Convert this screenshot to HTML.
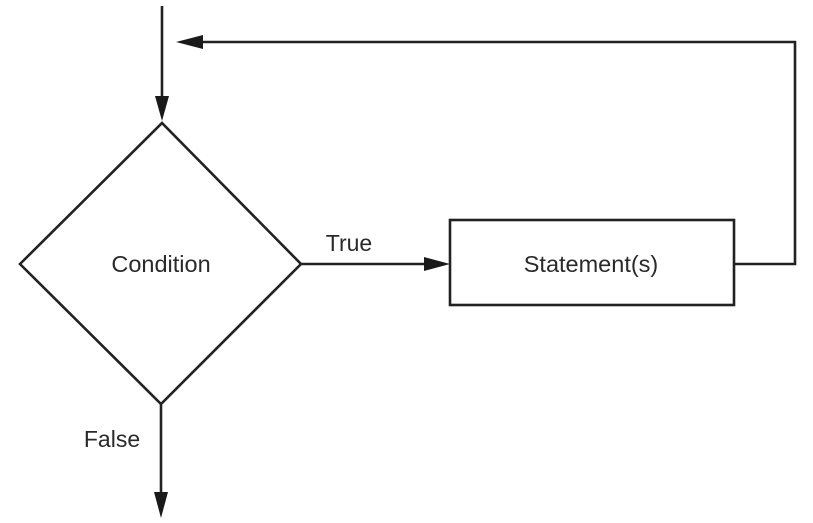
<!DOCTYPE html>
<html><head><style>
html,body{margin:0;padding:0;background:#fff;}
svg{display:block;}
text{font-family:"Liberation Sans",sans-serif;fill:#2a2a2a;}
</style></head><body>
<svg width="813" height="523" viewBox="0 0 813 523">
<g stroke="#222" stroke-width="2.6" fill="none">
<line x1="162" y1="6" x2="162" y2="98"/>
<polygon points="20,264 162,123 301,264 161,404"/>
<line x1="161" y1="404" x2="161" y2="494"/>
<line x1="301" y1="264" x2="425" y2="264"/>
<rect x="450" y="220" width="284" height="85"/>
<polyline points="734,264 795,264 795,42 200,42"/>
</g>
<g fill="#1a1a1a">
<polygon points="155,96 169,96 162,121"/>
<polygon points="154,492 168,492 161,518"/>
<polygon points="424,257 424,271 450,264"/>
<polygon points="203,35 203,49 176,42"/>
</g>
<text x="161" y="272" font-size="23.5" text-anchor="middle">Condition</text>
<text x="591" y="272" font-size="23.5" text-anchor="middle">Statement(s)</text>
<text x="349" y="251" font-size="23" text-anchor="middle">True</text>
<text x="112" y="447" font-size="23" text-anchor="middle">False</text>
</svg>
</body></html>
